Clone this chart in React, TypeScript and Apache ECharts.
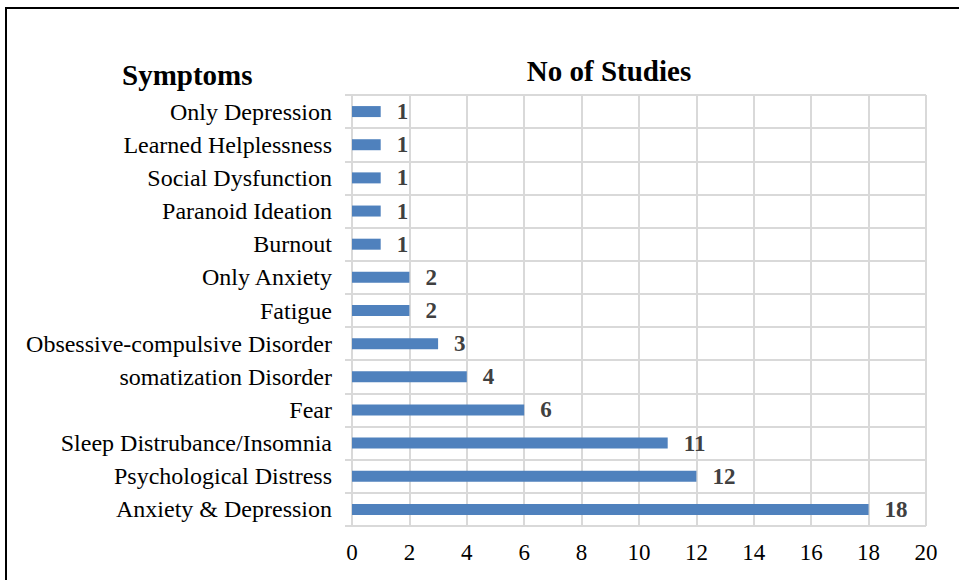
import React, { useEffect, useRef } from "react";
import * as echarts from "echarts";

const categories = [
  "Anxiety & Depression",
  "Psychological Distress",
  "Sleep Distrubance/Insomnia",
  "Fear",
  "somatization Disorder",
  "Obsessive-compulsive Disorder",
  "Fatigue",
  "Only Anxiety",
  "Burnout",
  "Paranoid Ideation",
  "Social Dysfunction",
  "Learned Helplessness",
  "Only Depression",
];
const studies = [18, 12, 11, 6, 4, 3, 2, 2, 1, 1, 1, 1, 1];
const xTicks = { min: 0, max: 20, interval: 2 };

const FONT = "'Liberation Serif', 'Times New Roman', serif";
const GRID = "#d9d9d9";

export default function App() {
  const ref = useRef<HTMLDivElement>(null);
  useEffect(() => {
    document.body.style.margin = "0";
    const chart = echarts.init(ref.current!, null, { renderer: "svg" });
    chart.setOption({
      animation: false,
      backgroundColor: "#ffffff",
      textStyle: { fontFamily: FONT },
      title: [
        {
          text: "No of Studies",
          left: 604,
          top: 51,
          textAlign: "center",
          textStyle: { fontFamily: FONT, fontSize: 29, fontWeight: "bold", color: "#000" },
        },
        {
          text: "Symptoms",
          left: 117,
          top: 55,
          textStyle: { fontFamily: FONT, fontSize: 29, fontWeight: "bold", color: "#000" },
        },
      ],
      graphic: [
        { type: "line", shape: { x1: 5, y1: 8, x2: 959, y2: 8 }, style: { stroke: "#000", lineWidth: 2 } },
        { type: "line", shape: { x1: 6, y1: 7, x2: 6, y2: 580 }, style: { stroke: "#000", lineWidth: 2 } },
      ],
      grid: { left: 352, top: 95, width: 574, height: 431, containLabel: false },
      xAxis: {
        type: "value",
        min: xTicks.min,
        max: xTicks.max,
        interval: xTicks.interval,
        axisLine: { show: false },
        axisTick: { show: false },
        axisLabel: { fontFamily: FONT, fontSize: 23, color: "#000", margin: 15 },
        splitLine: { show: true, lineStyle: { color: GRID, width: 2 } },
      },
      yAxis: {
        type: "category",
        data: categories,
        axisLine: { show: true, lineStyle: { color: GRID, width: 2 } },
        axisTick: { show: true, length: 7, lineStyle: { color: GRID, width: 2 } },
        axisLabel: { fontFamily: FONT, fontSize: 24, color: "#000", margin: 20, interval: 0 },
        splitLine: { show: true, lineStyle: { color: GRID, width: 2 } },
      },
      series: [
        {
          type: "bar",
          data: studies,
          barWidth: 11,
          itemStyle: { color: "#4f81bd" },
          label: {
            show: true,
            position: "right",
            distance: 16,
            fontFamily: FONT,
            fontSize: 23,
            fontWeight: "bold",
            color: "#404040",
          },
        },
      ],
    });
    return () => chart.dispose();
  }, []);
  return <div ref={ref} style={{ width: 959, height: 580 }} />;
}
